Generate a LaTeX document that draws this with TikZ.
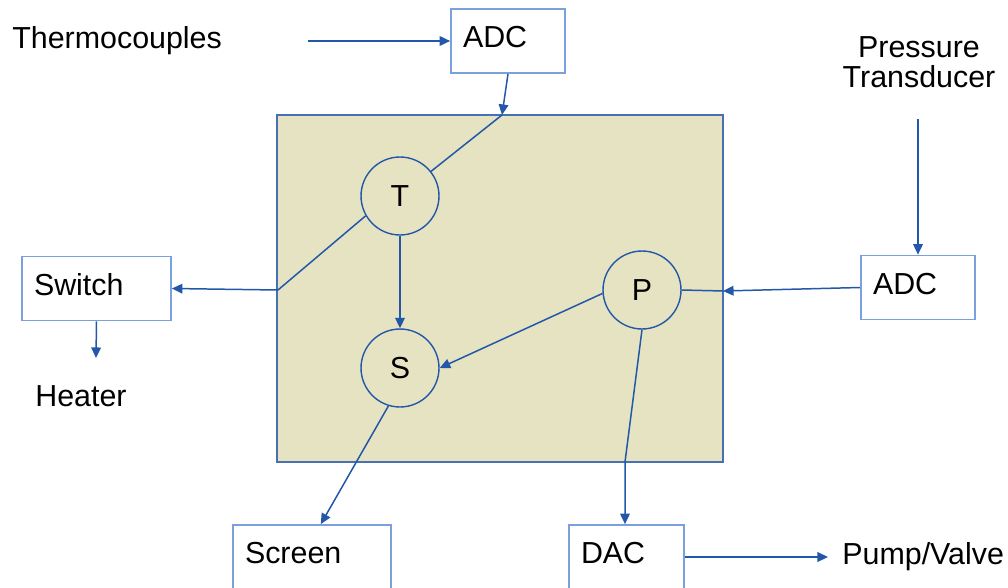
\documentclass[tikz,border=0pt]{standalone}
\usepackage{fontspec}
\setmainfont{Liberation Sans}
\usepackage{tikz}
\usetikzlibrary{arrows.meta}
\definecolor{linkblue}{RGB}{34,87,169}
\definecolor{boxblue}{RGB}{122,160,222}
\definecolor{boardblue}{RGB}{72,112,180}
\definecolor{boardfill}{RGB}{229,227,193}
\tikzset{
x=0.02cm, y=-0.02cm, % one unit is one pixel of the sketch, y runs down
>={Triangle[length=6pt,width=5.5pt]}, % small filled arrow heads
every node/.append style={font=\fontsize{17.3pt}{17.3pt}\selectfont}, % Arial-like text
box/.style={draw=boxblue, line width=1pt, fill=white, minimum height=1.28cm, align=left, inner xsep=0.24cm, text depth=0.42em}, % the white boxes
board/.style={draw=boardblue, line width=1.1pt, fill=boardfill, minimum width=8.92cm, minimum height=6.94cm}, % the controller
circ/.style={circle, draw=linkblue, line width=0.8pt, minimum size=1.56cm, inner sep=0pt}, % T, S and P
wire/.style={draw=linkblue, line width=0.85pt}, % plain line
link/.style={wire, ->}, % line with an arrow
caption/.style={inner sep=0pt, anchor=base west}, % free text
}
\begin{document}
\begin{tikzpicture}
		\useasboundingbox (0,0) rectangle (1008,588);
		\node[board] (board) at (500,288.5) {};
		\node[circ] (T) at (400,196) {T};
		\node[circ] (S) at (400,368) {S};
		\node[circ] (P) at (642,290) {P};
		\node[box, text width=1.8cm] (adcT) at (508,41) {ADC};
		\node[box, text width=1.8cm] (adcP) at (918,287.5) {ADC};
		\node[box, text width=2.5cm] (switch) at (96.5,288.5) {Switch};
		\node[box, text width=2.68cm] (screen) at (312,557) {Screen};
		\node[box, text width=1.82cm] (dac) at (626.5,557) {DAC};
		\node[caption] (thermo) at (12,49) {Thermocouples};
		\node[caption] (heater) at (35,406) {Heater};
		\node[caption] (pump) at (842,564) {Pump/Valve};
		\node[align=center, inner sep=0pt] (ptrans) at (919,62) {Pressure\\Transducer};
		\coordinate (tcin) at (308,41);
		\coordinate (ptin) at (918,119);
		\coordinate (htin) at (96,358);
		\coordinate (btop) at (502,115);
		\coordinate (bleft) at (278,290);
		\coordinate (bright) at (723,291);
		\coordinate (bbot) at (625,462);
		\draw[link] (tcin) -- (adcT.west);
		\draw[link] (adcT.south) -- (btop);
		\draw[wire] (btop) -- (T);
		\draw[wire] (T.210) -- (bleft);
		\draw[link] (bleft) -- (switch.east);
		\draw[link] (switch.south) -- (htin);
		\draw[link] (T) -- (S);
		\draw[link] (P.185) -- (S.east);
		\draw[link] (ptin) -- (adcP.north);
		\draw[link] (adcP.west) -- (bright);
		\draw[wire] (P.east) -- (bright);
		\draw[link] (P.south) -- (bbot) -- (bbot |- dac.north);
		\draw[link] (S.253) -- (screen.75);
		\draw[link, shorten >=0.28cm] (dac.east) -- (pump.west |- dac.east);
	\end{tikzpicture}
\end{document}
